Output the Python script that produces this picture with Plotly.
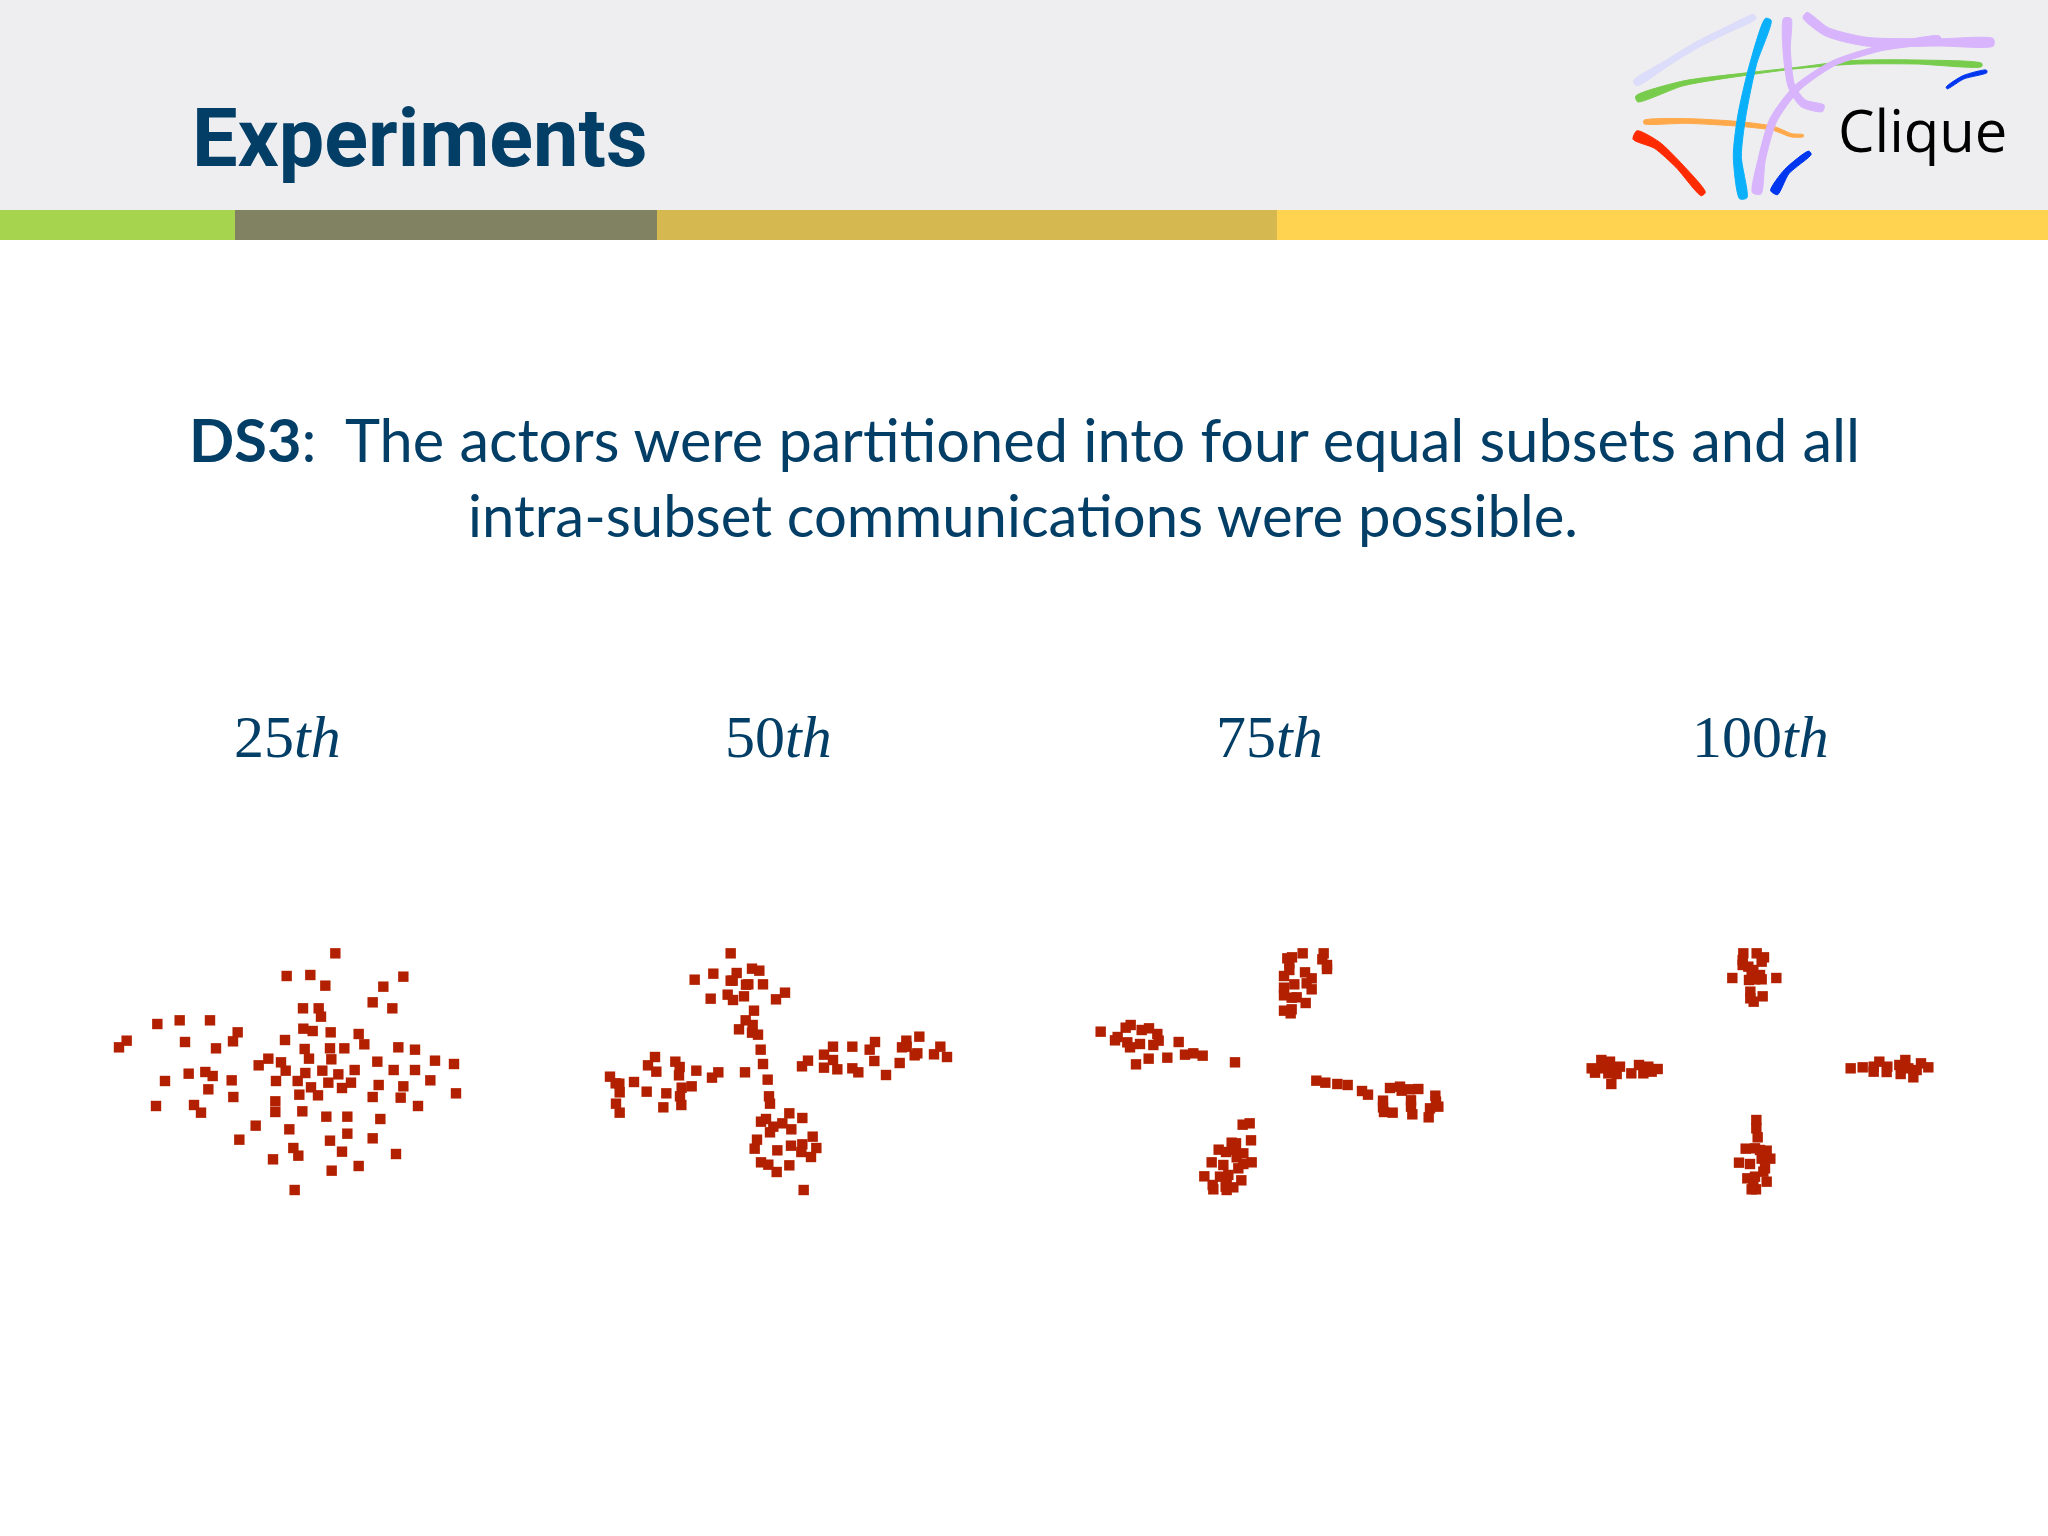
import plotly.graph_objects as go
import numpy as np

W, H = 2048, 1536

title_text = "Experiments"
body_line1 = "<b>DS3</b>:  The actors were partitioned into four equal subsets and all"
body_line2 = "intra-subset communications were possible."
panel_labels = ["25<i>th</i>", "50<i>th</i>", "75<i>th</i>", "100<i>th</i>"]
logo_text = "Clique"

# Scatter values per panel (x, y in panel units)
p25_x = [736,590,661,706,940,880,848,907,639,686,693,202,269,360,443,429,110,87,285,378,640,668,722,806,823,585,644,720,763,925,975,657,724,535,506,573,587,862,1035,1092,296,346,368,225,425,355,430,646,697,745,794,911,975,558,623,715,783,663,756,866,940,1021,1098,628,684,848,932,556,984,198,312,333,556,637,709,772,871,497,598,772,720,848,448,610,625,756,549,918,806,725,614]
p25_y = [100,168,165,197,170,200,247,265,265,265,290,312,301,301,337,364,362,382,366,385,326,333,337,342,373,360,387,385,385,382,389,416,418,416,436,427,452,425,422,432,461,456,468,483,481,508,531,459,452,463,450,450,450,483,483,488,488,502,504,495,499,481,520,524,526,531,533,544,558,558,555,578,576,574,590,590,597,617,628,641,662,655,659,684,707,695,718,702,738,752,810]

p50_x = [422,314,370,440,486,508,422,428,468,475,519,413,429,462,362,558,585,492,467,488,447,486,504,512,519,465,533,537,540,195,256,174,269,199,319,267,385,366,60,77,88,132,89,170,275,305,229,270,78,89,220,274,729,787,855,839,702,654,636,729,702,742,787,805,853,888,929,936,949,950,988,982,974,1032,1051,1071,598,637,528,513,577,550,540,604,668,501,494,637,603,562,634,679,663,513,535,598,560,641]
p50_y = [100,179,161,159,146,152,182,182,194,193,193,224,240,229,236,238,218,272,301,315,328,338,344,389,432,457,479,529,551,411,425,436,441,455,452,466,457,473,470,490,491,486,517,515,503,499,520,529,551,578,562,555,380,380,366,389,404,422,439,420,443,448,445,457,423,465,429,382,362,380,350,400,406,403,380,411,580,594,597,605,610,620,637,628,650,659,686,673,677,691,696,684,711,727,734,736,756,810]

p75_x = [668,731,727,622,636,628,741,741,628,612,675,695,680,643,695,612,612,635,650,677,612,635,632,62,152,137,185,207,232,236,220,113,105,142,150,180,296,315,340,368,262,206,168,465,709,736,772,803,846,864,930,960,965,990,1015,1066,1068,1075,1050,1046,909,909,912,938,993,993,997,488,509,513,455,468,416,438,465,490,470,395,430,515,490,475,373,420,445,484,398,400,440,437,460,440]
p75_y = [100,100,118,115,112,130,135,147,150,168,157,175,190,193,208,203,226,233,232,249,272,268,280,335,315,323,330,325,342,362,375,351,361,367,382,372,366,404,400,407,413,416,433,427,482,488,492,495,513,524,504,500,512,508,507,527,545,560,565,592,542,562,576,578,541,560,583,614,610,661,668,670,689,696,690,700,712,727,735,727,732,745,769,770,765,781,795,808,783,800,802,810]

p100_x = [520,560,582,575,518,518,535,550,570,545,537,575,555,487,619,541,541,578,551,842,878,911,911,928,952,950,988,992,1006,1015,1030,1053,1075,1040,65,75,94,95,120,115,135,150,140,124,184,207,235,220,245,263,110,559,559,563,527,555,570,590,601,575,507,540,585,555,532,590,550,558,545,580]
p100_y = [100,100,112,125,120,135,140,150,165,165,180,178,178,174,174,215,235,229,245,445,442,440,455,425,440,456,435,462,420,445,472,430,442,450,445,458,420,445,425,460,445,440,462,492,460,435,440,460,455,447,440,600,625,652,686,685,690,692,716,716,728,732,745,770,775,785,795,808,808,755]

panels = [(p25_x, p25_y, 90), (p50_x, p50_y, 590), (p75_x, p75_y, 1080), (p100_x, p100_y, 1570)]

# Logo strokes: centre x, centre y, width
logo_strokes = [
    ("#DCDCFB", [105,200,290,380,465], [250,190,135,90,50], [18,18,18,18,14]),
    ("#78CC4C", [110,250,440,600,760,950,1145], [297,250,222,203,187,186,195], [18,14,7,4,11,12,10]),
    ("#FFA94A", [132,260,420,520,575,610], [366,363,372,385,406,407], [10,14,14,12,10,6]),
    ("#0AB0FA", [505,460,425,412,430], [58,190,350,470,595], [18,20,24,24,22]),
    ("#D8B4FC", [562,560,575,610,670], [55,150,260,310,325], [22,22,20,24,20]),
    ("#D8B4FC", [615,680,800,1020,1180], [45,95,125,127,127], [20,26,26,22,22]),
    ("#D8B4FC", [470,485,520,590,700,840,1020], [580,480,360,265,190,145,115], [26,22,22,20,16,16,14]),
    ("#0036F0", [1040,1090,1160], [264,232,214], [6,10,8]),
    ("#0036F0", [522,560,630], [578,515,458], [24,18,12]),
    ("#FF2A00", [105,170,235,310], [405,435,495,582], [28,24,20,16]),
]

fig = go.Figure()

def dom(x0, x1, y0, y1):
    return dict(x=[x0 / W, x1 / W], y=[1 - y1 / H, 1 - y0 / H])

layout_axes = {}
for i, (xs, ys, left) in enumerate(panels):
    n = i + 1
    d = dom(left, left + 400, 920, 1220)
    layout_axes[f"xaxis{n}"] = dict(domain=d["x"], range=[0, 1200], visible=False, fixedrange=True, anchor=f"y{n}")
    layout_axes[f"yaxis{n}"] = dict(domain=d["y"], range=[900, 0], visible=False, fixedrange=True, anchor=f"x{n}")
    fig.add_trace(go.Scatter(x=xs, y=ys, mode="markers", xaxis=f"x{n}", yaxis=f"y{n}",
                             marker=dict(symbol="square", size=10.4, color="#B22000", line=dict(width=0)),
                             hoverinfo="skip"))

d = dom(1600, 2048, 0, 250)
layout_axes["xaxis5"] = dict(domain=d["x"], range=[0, 1344], visible=False, fixedrange=True, anchor="y5")
layout_axes["yaxis5"] = dict(domain=d["y"], range=[750, 0], visible=False, fixedrange=True, anchor="x5")

for color, sx, sy, sw in logo_strokes:
    x = np.array(sx, float); y = np.array(sy, float); w = np.array(sw, float) / 2
    dx = np.gradient(x); dy = np.gradient(y)
    L = np.hypot(dx, dy)
    nx, ny = -dy / L, dx / L
    px = list(x + nx * w) + list((x - nx * w)[::-1])
    py = list(y + ny * w) + list((y - ny * w)[::-1])
    fig.add_trace(go.Scatter(x=px + px[:1], y=py + py[:1], mode="lines", fill="toself", fillcolor=color,
                             line=dict(color=color, width=1, shape="spline", smoothing=0.7),
                             xaxis="x5", yaxis="y5", hoverinfo="skip"))

def band(x0, x1, y0, y1, color):
    return dict(type="rect", xref="paper", yref="paper", x0=x0 / W, x1=x1 / W, y0=1 - y1 / H, y1=1 - y0 / H,
                fillcolor=color, line=dict(width=0), layer="below")

shapes = [
    band(0, 2048, 0, 210, "#EEEEF0"),
    band(0, 235, 210, 240, "#A6D44F"),
    band(235, 657, 210, 240, "#818262"),
    band(657, 1277, 210, 240, "#D6B850"),
    band(1277, 2048, 210, 240, "#FFD250"),
]

def note(text, x, y, size, family, color="#033E66", anchor="center"):
    return dict(text=text, x=x / W, y=1 - y / H, xref="paper", yref="paper", xanchor=anchor, yanchor="middle",
                showarrow=False, font=dict(size=size, family=family, color=color))

annotations = [
    note("<b>" + title_text + "</b>", 190, 138, 81, "Roboto", anchor="left"),
    note(body_line1, 1024, 439, 59.5, "Lato", anchor="center"),
    note(body_line2, 1023, 515, 58, "Lato", anchor="center"),
    note(logo_text, 1922, 129, 58, "Open Sans", color="#000000"),
]
for label, cx in zip(panel_labels, [287, 778, 1269, 1760]):
    annotations.append(note(label, cx, 737, 60, "Liberation Serif"))

fig.update_layout(width=W, height=H, margin=dict(l=0, r=0, t=0, b=0), showlegend=False,
                  paper_bgcolor="white", plot_bgcolor="rgba(0,0,0,0)", shapes=shapes, annotations=annotations,
                  **layout_axes)
fig.write_html("out.html", config=dict(displayModeBar=False), post_script="document.body.style.margin='0';")
